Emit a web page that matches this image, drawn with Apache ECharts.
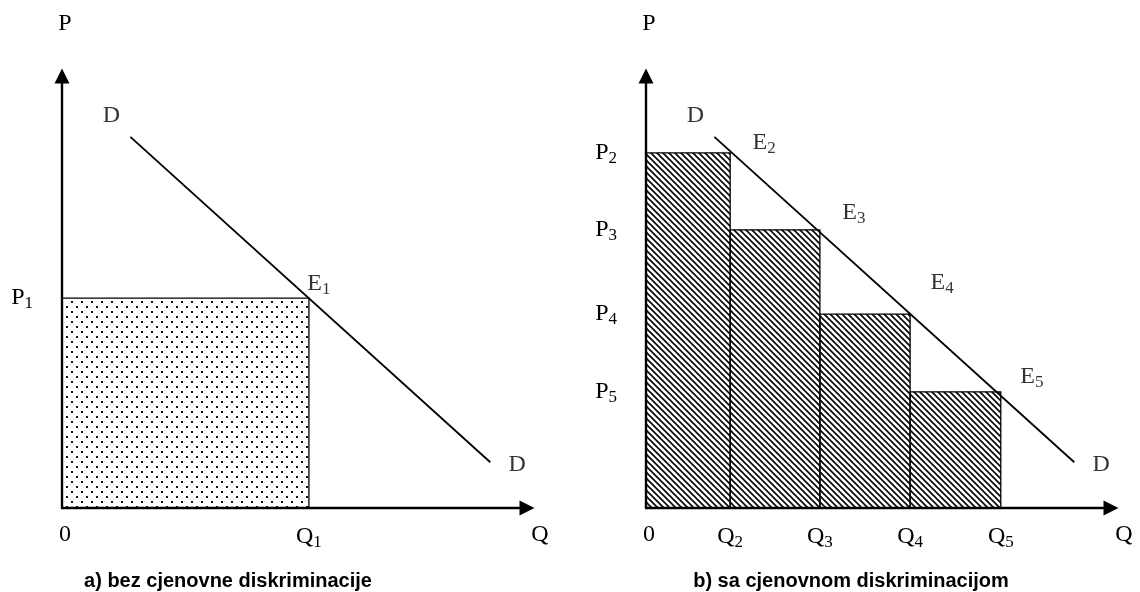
<!DOCTYPE html>
<html>
<head>
<meta charset="utf-8">
<script src="https://cdn.jsdelivr.net/npm/echarts@6/dist/echarts.min.js"></script>
<style>
  html, body { margin: 0; padding: 0; background: #fff; }
  #main { width: 1140px; height: 592px; }
</style>
</head>
<body>
<div id="main"></div>
<script>
'use strict';

// axis range (arbitrary units, schematic)
const qMax = 10;
const pMax = 10;

// demand curve D-D, same in both panels
const demandQ = [1.47, 9.21];
const demandP = [8.59, 1.06];

// a) single price
const q1 = 5.31;
const p1 = 4.86;

// b) step prices
const stepQ = [0, 1.81, 3.74, 5.68, 7.63];   // 0, Q2..Q5
const stepP = [8.22, 6.44, 4.49, 2.69];      // P2..P5
const stepIdx = ['2', '3', '4', '5'];

const serif = '"Liberation Serif", "Times New Roman", serif';
const sans = '"Liberation Sans", Arial, sans-serif';

let makeDots = function(){
	let c = document.createElement('canvas');
	c.width = 10; c.height = 10;
	let ctx = c.getContext('2d');
	ctx.fillStyle = '#111';
	ctx.fillRect(1, 1, 2, 2);
	ctx.fillRect(6, 6, 2, 2);
	return c;
};

let makeHatch = function(){
	let s = 6;
	let c = document.createElement('canvas');
	c.width = s; c.height = s;
	let ctx = c.getContext('2d');
	ctx.strokeStyle = '#000';
	ctx.lineWidth = 1.6;
	[-s, 0, s].forEach(function(off){
		ctx.beginPath();
		ctx.moveTo(-1, off - 1);
		ctx.lineTo(s + 1, s + off + 1);
		ctx.stroke();
	});
	return c;
};

let dotFill = {image: makeDots(), repeat: 'repeat'};
let hatchFill = {image: makeHatch(), repeat: 'repeat'};

let richText = {
	m: {fontFamily: serif, fontSize: 24, color: '#000'},
	s: {fontFamily: serif, fontSize: 17, color: '#000', padding: [11, 0, 0, 0]},
	q: {fontFamily: serif, fontSize: 24, color: '#000', padding: [0, 0, 0, 26]},
	z: {fontFamily: serif, fontSize: 24, color: '#000', padding: [0, 0, 0, 6]}
};

let sub = function(letter, idx){
	return '{m|' + letter + '}{s|' + idx + '}';
};

let axisLine = function(){
	return {
		show: true,
		symbol: ['none', 'triangle'],
		symbolSize: [15, 15],
		lineStyle: {color: '#000', width: 2.4}
	};
};

let makeX = function(grid, vals, names){
	return {
		type: 'value', gridIndex: grid, min: 0, max: qMax,
		axisLine: axisLine(),
		axisTick: {show: false},
		splitLine: {show: false},
		axisLabel: {
			customValues: vals,
			margin: 15,
			color: '#000',
			rich: richText,
			formatter: function(v){
				let i = vals.indexOf(v);
				return names[i];
			}
		}
	};
};

let makeY = function(grid, vals, names){
	return {
		type: 'value', gridIndex: grid, min: 0, max: pMax,
		name: 'P',
		nameLocation: 'end',
		nameGap: 40,
		nameTextStyle: {fontFamily: serif, fontSize: 24, color: '#000', padding: [0, 0, 0, 6]},
		axisLine: axisLine(),
		axisTick: {show: false},
		splitLine: {show: false},
		axisLabel: {
			customValues: vals,
			margin: 29,
			color: '#000',
			rich: richText,
			formatter: function(v){
				let i = vals.indexOf(v);
				return names[i];
			}
		}
	};
};

let rectItem = function(fill){
	return function(params, api){
		let a = api.coord([api.value(0), api.value(2)]);
		let b = api.coord([api.value(1), 0]);
		return {
			type: 'rect',
			shape: {x: a[0], y: a[1], width: b[0] - a[0], height: b[1] - a[1]},
			style: {fill: fill, stroke: '#000', lineWidth: 1.3}
		};
	};
};

let demandLine = function(idx){
	return {
		type: 'line', xAxisIndex: idx, yAxisIndex: idx,
		data: [[demandQ[0], demandP[0]], [demandQ[1], demandP[1]]],
		symbol: 'none',
		lineStyle: {color: '#000', width: 1.8},
		z: 5
	};
};

let textPoints = function(idx, items){
	return {
		type: 'scatter', xAxisIndex: idx, yAxisIndex: idx,
		symbolSize: 1,
		itemStyle: {color: 'rgba(0,0,0,0)'},
		silent: true,
		z: 6,
		data: items.map(function(it){
			return {
				value: it.v,
				label: {
					show: true, position: 'inside', offset: it.off,
					formatter: it.t, rich: richText,
					fontFamily: serif, fontSize: 24, color: '#000'
				}
			};
		})
	};
};

// labels on the demand line
let dLabels = [
	{v: [demandQ[0], demandP[0]], t: '{m|D}', off: [-19, -21]},
	{v: [demandQ[1], demandP[1]], t: '{m|D}', off: [27, 2]}
];

let leftLabels = dLabels.concat([
	{v: [q1, p1], t: sub('E', '1'), off: [10, -14]}
]);

let eOff = [[34, -10], [34, -17], [32, -31], [31, -15]];
let rightLabels = dLabels.concat(stepP.map(function(p, i){
	return {v: [stepQ[i + 1], p], t: sub('E', stepIdx[i]), off: eOff[i]};
}));

let stepData = stepP.map(function(p, i){
	return [stepQ[i], stepQ[i + 1], p];
});

let chart = echarts.init(document.getElementById('main'));
let option = {
	backgroundColor: '#fff',
	animation: false,
	title: [
		{text: 'a) bez cjenovne diskriminacije', left: 223, top: 566, textAlign: 'center',
			textStyle: {fontFamily: sans, fontSize: 20, fontWeight: 'bold', color: '#000'}},
		{text: 'b) sa cjenovnom diskriminacijom', left: 846, top: 566, textAlign: 'center',
			textStyle: {fontFamily: sans, fontSize: 20, fontWeight: 'bold', color: '#000'}}
	],
	grid: [
		{left: 62, top: 76, width: 465, height: 432},
		{left: 646, top: 76, width: 465, height: 432}
	],
	xAxis: [
		makeX(0, [0, q1, qMax], ['{z|0}', sub('Q', '1'), '{q|Q}']),
		makeX(1, stepQ.concat([qMax]), ['{z|0}'].concat(stepIdx.map(function(k){ return sub('Q', k); })).concat(['{q|Q}']))
	],
	yAxis: [
		makeY(0, [p1], [sub('P', '1')]),
		makeY(1, stepP, stepIdx.map(function(k){ return sub('P', k); }))
	],
	series: [
		{
			type: 'custom', xAxisIndex: 0, yAxisIndex: 0,
			renderItem: rectItem(dotFill),
			encode: {x: [0, 1], y: 2},
			data: [[0, q1, p1]],
			z: 1
		},
		{
			type: 'custom', xAxisIndex: 1, yAxisIndex: 1,
			renderItem: rectItem(hatchFill),
			encode: {x: [0, 1], y: 2},
			data: stepData,
			z: 1
		},
		demandLine(0),
		demandLine(1),
		textPoints(0, leftLabels),
		textPoints(1, rightLabels)
	]
};
chart.setOption(option);
</script>
</body>
</html>
